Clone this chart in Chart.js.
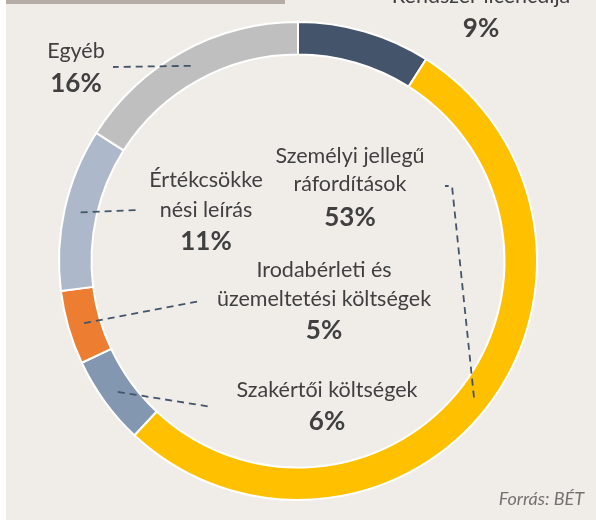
<!DOCTYPE html>
<html>
<head>
<meta charset="utf-8">
<script src="https://cdn.jsdelivr.net/npm/chart.js@4"></script>
<style>
  html, body { margin: 0; padding: 0; background: #ffffff; }
  #wrap { position: relative; width: 596px; height: 520px; }
</style>
</head>
<body>
<div id="wrap"><canvas id="costChart" width="596" height="520"></canvas></div>
<script>
(() => {
  // data
  const categories = [
    "Rendszer licencdíja",
    "Személyi jellegű ráfordítások",
    "Szakértői költségek",
    "Irodabérleti és üzemeltetési költségek",
    "Értékcsökkenési leírás",
    "Egyéb",
  ];
  const shares = [9, 53, 6, 5, 11, 16];
  const labelLines = [
    ["Rendszer licencdíja"],
    ["Személyi jellegű", "ráfordítások"],
    ["Szakértői költségek"],
    ["Irodabérleti és", "üzemeltetési költségek"],
    ["Értékcsökke", "nési leírás"],
    ["Egyéb"],
  ];
  const sourceNote = "Forrás: BÉT";

  const sliceColors = ["#44546a", "#ffc000", "#8497b0", "#ed7d31", "#adb9ca", "#bfbfbf"];
  const textColor = "#404040";
  const leaderColor = "#44546a";

  // label placement: centre x, text baselines, percent baseline, leader end (or elbow path)
  const labelLayout = [
    { x: 481, baselines: [3], pctBase: 37, leader: null },
    { x: 350, baselines: [163, 191], pctBase: 226, leader: [[452, 186], [445, 186]] },
    { x: 327, baselines: [397], pctBase: 430, leader: [[212, 407]] },
    { x: 324, baselines: [277, 306], pctBase: 339, leader: [[200, 301]] },
    { x: 206, baselines: [187, 217], pctBase: 250, leader: [[138, 210]] },
    { x: 76, baselines: [58], pctBase: 92, leader: [[113, 67]] },
  ];

  const labelFont = "21.5px Lato";
  const pctFont = "bold 26px Lato";

  const backgroundPlugin = {
    id: "panelBackground",
    beforeDraw(chart) {
      const { ctx, width, height } = chart;
      ctx.save();
      ctx.fillStyle = "#ffffff";
      ctx.fillRect(0, 0, width, height);
      ctx.fillStyle = "#f0ede9";
      ctx.fillRect(6, 0, width - 6, height);
      ctx.fillStyle = "#b5ada5";
      ctx.fillRect(6, 0, 279, 4);
      ctx.restore();
    },
  };

  const labelPlugin = {
    id: "sliceLabels",
    afterDatasetsDraw(chart) {
      const { ctx } = chart;
      const arcs = chart.getDatasetMeta(0).data;
      ctx.save();

      labelLayout.forEach((layout, i) => {
        if (!layout.leader) return;
        const start = arcs[i].getCenterPoint();
        ctx.beginPath();
        ctx.setLineDash([7, 5]);
        ctx.lineWidth = 1.8;
        ctx.strokeStyle = leaderColor;
        ctx.moveTo(start.x, start.y);
        layout.leader.forEach(([x, y]) => ctx.lineTo(x, y));
        ctx.stroke();
      });

      ctx.setLineDash([]);
      ctx.textAlign = "center";
      ctx.textBaseline = "alphabetic";
      ctx.fillStyle = textColor;
      labelLayout.forEach((layout, i) => {
        ctx.font = labelFont;
        labelLines[i].forEach((line, k) => ctx.fillText(line, layout.x, layout.baselines[k]));
        ctx.font = pctFont;
        ctx.fillText(`${shares[i]}%`, layout.x, layout.pctBase);
      });

      ctx.font = "italic 18px Lato";
      ctx.fillStyle = "#767171";
      ctx.textAlign = "right";
      ctx.fillText(sourceNote, 584, 505);
      ctx.restore();
    },
  };

  new Chart(document.getElementById("costChart"), {
    type: "doughnut",
    data: {
      labels: categories,
      datasets: [
        {
          data: shares,
          backgroundColor: sliceColors,
          borderColor: "#ffffff",
          borderWidth: 2,
        },
      ],
    },
    options: {
      responsive: false,
      animation: false,
      cutout: "86.4%",
      layout: { padding: { left: 58, right: 58, top: 21, bottom: 19 } },
      plugins: { legend: { display: false }, tooltip: { enabled: false } },
    },
    plugins: [backgroundPlugin, labelPlugin],
  });
})();
</script>
</body>
</html>
